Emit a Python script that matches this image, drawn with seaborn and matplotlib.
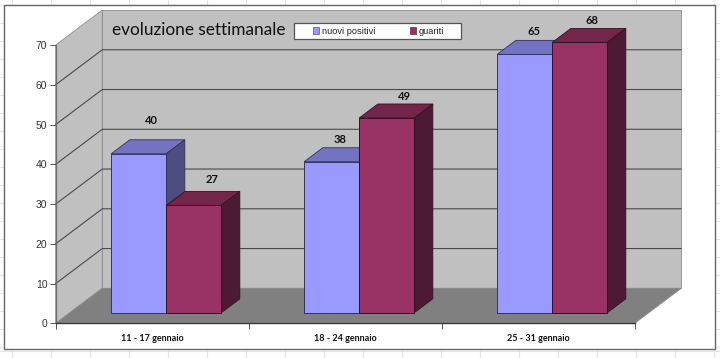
"""
Evoluzione settimanale: Excel-style 3D column chart drawn with seaborn.
"""

import matplotlib
matplotlib.use("Agg")
import matplotlib.pyplot as plt
import pandas as pd
import seaborn as sns
from matplotlib.patches import Polygon, Rectangle

sns.set_theme(style="white")
plt.rcParams["font.family"] = ["Liberation Sans", "DejaVu Sans"]

# ── Data ─────────────────────────────────────────────────────────────────────
weeks = ["11 - 17 gennaio", "18 - 24 gennaio", "25 - 31 gennaio"]
nuovi_positivi = [40, 38, 65]
guariti = [27, 49, 68]
y_ticks = [0, 10, 20, 30, 40, 50, 60, 70]

df = pd.DataFrame({
    "settimana": weeks * 2,
    "casi": nuovi_positivi + guariti,
    "serie": ["nuovi positivi"] * 3 + ["guariti"] * 3,
})

# face colours: front, top, side
BLUE = ("#9999FF", "#7373BF", "#4D4D80")
WINE = ("#993366", "#732649", "#4D1A33")

W, H = 720, 358
fig = plt.figure(figsize=(W / 100, H / 100), dpi=100, facecolor="white")

# ── Spreadsheet behind the chart ─────────────────────────────────────────────
bg = fig.add_axes([0, 0, 1, 1], zorder=0)
bg.set_xlim(0, W)
bg.set_ylim(H, 0)
bg.axis("off")
for gx in range(12, W, 39):
    bg.axvline(gx - 0.3, color="#E4E4E4", lw=0.8, zorder=1)
for gy in range(5, H, 18):
    bg.axhline(gy, color="#E4E4E4", lw=0.8, zorder=1)
bg.axhline(351, color="#E4E4E4", lw=0.8, zorder=1)
bg.add_patch(Rectangle((3.5, 5.3), 711.2, 343.4, fc="white", ec="#666666", lw=1.0, zorder=2))

# ── Front plane of the box holds the axes ────────────────────────────────────
ax = fig.add_axes([55.7 / W, (H - 323.3) / H, 579 / W, 278.3 / H], zorder=1)
ax.patch.set_alpha(0)

sns.barplot(data=df, x="settimana", y="casi", hue="serie", ax=ax,
            palette=[BLUE[0], WINE[0]], width=0.57, saturation=1,
            gap=0, legend=False)

ax.set_xlim(-0.5, 2.5)
ax.set_ylim(0, 70)

# depth of the box in data units, from 46.6 px right and 35 px up
DX = 46.6 / 193
DY = 35 / (278.3 / 70)

# walls and floor
walls = [
    ([(-0.5, 0), (-0.5 + DX, DY), (-0.5 + DX, 70 + DY), (-0.5, 70)], "#C0C0C0"),
    ([(-0.5 + DX, DY), (2.5 + DX, DY), (2.5 + DX, 70 + DY), (-0.5 + DX, 70 + DY)], "#C0C0C0"),
    ([(-0.5, 0), (2.5, 0), (2.5 + DX, DY), (-0.5 + DX, DY)], "#808080"),
]
for pts, col in walls:
    ax.add_patch(Polygon(pts, closed=True, fc=col, ec="#8C8C8C", lw=0.6,
                         clip_on=False, zorder=0.5))

# gridlines run along the left wall and across the back
for v in y_ticks[1:-1]:
    ax.plot([-0.5, -0.5 + DX, 2.5 + DX], [v, v + DY, v + DY], color="#4A4A4A",
            lw=0.8, clip_on=False, zorder=0.8)

# bars sit 30% into the box, and are 40% of the depth deep
BAR_START, BAR_DEPTH = 0.30, 0.40
bdx, bdy = DX * BAR_DEPTH, DY * BAR_DEPTH
label_nudge = {(0, 0): (13, 33), (1, 0): (8, 22), (2, 0): (9, 23),
               (0, 1): (18, 26), (1, 1): (18, 21), (2, 1): (12, 22)}

for s, (container, shades, edge) in enumerate(zip(ax.containers, (BLUE, WINE), ("#33335C", "#33102A"))):
    for g, bar in enumerate(container):
        value = bar.get_height()
        x0 = bar.get_x() + DX * BAR_START
        y0 = DY * BAR_START
        w = bar.get_width()
        z = 2 + g * 2 + s
        bar.set_x(x0)
        bar.set_y(y0)
        bar.set(edgecolor=edge, linewidth=0.7, clip_on=False, zorder=z + 0.2)
        top = [(x0, y0 + value), (x0 + w, y0 + value),
               (x0 + w + bdx, y0 + value + bdy), (x0 + bdx, y0 + value + bdy)]
        side = [(x0 + w, y0), (x0 + w + bdx, y0 + bdy),
                (x0 + w + bdx, y0 + value + bdy), (x0 + w, y0 + value)]
        ax.add_patch(Polygon(top, closed=True, fc=shades[1], ec=edge, lw=0.6, clip_on=False, zorder=z))
        ax.add_patch(Polygon(side, closed=True, fc=shades[2], ec=edge, lw=0.6, clip_on=False, zorder=z))
        nx, ny = label_nudge[(g, s)]
        ax.annotate(f"{value:.0f}", (x0 + w / 2, y0 + value), xytext=(nx, ny),
                    textcoords="offset pixels", ha="center", va="center",
                    family="Lato", fontweight="bold", fontsize=8, color="#111111",
                    annotation_clip=False, zorder=20)

# ── Axes furniture ───────────────────────────────────────────────────────────
for name in ("top", "right"):
    ax.spines[name].set_visible(False)
ax.spines["left"].set_color("#6E6E6E")
ax.spines["left"].set_linewidth(0.9)
ax.spines["bottom"].set_color("#3A3A3A")
ax.spines["bottom"].set_linewidth(1.0)
ax.spines["left"].set_zorder(1)
ax.spines["bottom"].set_zorder(1)

ax.set_xlabel("")
ax.set_ylabel("")
ax.set_yticks(y_ticks)
ax.tick_params(axis="y", left=True, length=4, width=0.7, color="#555555", pad=2,
               labelsize=7.5, labelcolor="#333333")
ax.set_xticks([0, 1, 2], weeks)
ax.set_xticks([-0.5, 0.5, 1.5, 2.5], minor=True)
ax.tick_params(axis="x", which="major", bottom=False, pad=2, labelsize=6.5)
ax.tick_params(axis="x", which="minor", bottom=True, length=4, width=0.7, color="#555555")
for lab in ax.get_xticklabels():
    lab.set(family="Lato", fontweight="bold", color="#111111")

fig.text(112.5 / W, 1 - 30 / H, "evoluzione settimanale", family="Lato", fontsize=12.4,
         color="#111111", ha="left", va="center", zorder=30)

fig.add_artist(Rectangle((294.3 / W, 1 - 39 / H), 166.4 / W, 16 / H, transform=fig.transFigure,
                         fc="white", ec="#555555", lw=0.9, zorder=29))
handles = [ax.containers[0][0], ax.containers[1][0]]
leg = fig.legend(handles, ["nuovi positivi", "guariti"], ncol=2, loc="center",
                 bbox_to_anchor=(378.5 / W, 1 - 31 / H), fontsize=6.7, frameon=False,
                 handlelength=0.7, handleheight=0.7, handletextpad=0.27, columnspacing=3.75,
                 borderpad=0.3, labelcolor="#222222")
leg.set_zorder(30)
for h in leg.legend_handles:
    h.set_linewidth(0.4)

fig.savefig("out.png", dpi=100)
